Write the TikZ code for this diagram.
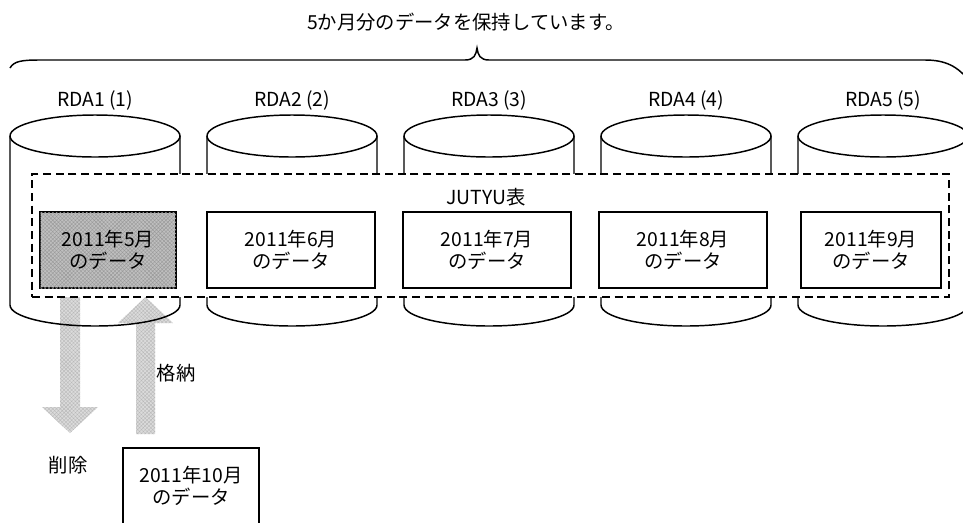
\documentclass[tikz,border=0pt]{standalone}
\usepackage{fontspec}
\setmainfont{Noto Sans CJK JP}
\usetikzlibrary{positioning, patterns.meta}

\begin{document}
\begin{tikzpicture}[
        x=0.75pt, y=-0.75pt,
        font=\fontsize{14.5}{16.5}\selectfont,
        line width=1.1pt,
        rdabox/.style={draw, fill=white, minimum height=57pt, align=center, inner sep=0pt},
        olddata/.style={rdabox, fill=gray!50, postaction={pattern={Hatch[angle=45, distance=2pt, line width=0.3pt]}, pattern color=gray!80}},
        bigarrow/.style={fill=gray!28, postaction={pattern={Hatch[angle=45, distance=2pt, line width=0.3pt]}, pattern color=gray!55}},
        tablebox/.style={draw, dash pattern=on 6pt off 3.5pt, fill=white, minimum width=687.75pt, minimum height=92.25pt, inner sep=0pt},
    ]
    \useasboundingbox (0,0) rectangle (963,522);
    \clip (0,0) rectangle (963,522);

    % Title and brace
    \node (title) at (466,22) {5か月分のデータを保持しています。};
    \draw (10,68) .. controls (14,61) and (22,60) .. (40,60) -- (465,60)
        .. controls (474,60) and (476,55) .. (477,48)
        .. controls (478,55) and (480,60) .. (489,60) -- (925,60)
        .. controls (945,60) and (958,66) .. (970,82);

    % Delete / store arrows
    \path[bigarrow] (60,297) -- (80,297) -- (80,407) -- (98,407) -- (70,433) -- (42,407) -- (60,407) -- cycle;
    \path[bigarrow] (136,434) -- (155,434) -- (155,323) -- (173,323) -- (145.5,297) -- (118,323) -- (136,323) -- cycle;
    \node (del) at (68,465) {削除};
    \node (store) at (176,373) {格納};

    % RDA areas
    \foreach \i/\cx in {1/95, 2/292, 3/489, 4/686, 5/883} {
        \draw (\cx,136) ellipse [x radius=63.75pt, y radius=15.75pt];
        \draw (\cx-85,136) -- (\cx-85,305) arc[start angle=180, end angle=360, x radius=63.75pt, y radius=15.75pt] -- (\cx+85,136);
        \node (rda\i) at (\cx,100) {RDA\i\ (\i)};
    }

    % JUTYU table
    \node[tablebox] (jutyu) at (490.5,235.5) {};
    \node (jutyulabel) at (486,197) {JUTYU表};

    % Monthly data
    \node[olddata, minimum width=102pt] (may) at (108,250) {2011年5月\\のデータ};
    \node[rdabox, minimum width=126pt] (jun) at (291,250) {2011年6月\\のデータ};
    \node[rdabox, minimum width=126pt] (jul) at (487,250) {2011年7月\\のデータ};
    \node[rdabox, minimum width=126pt] (aug) at (683,250) {2011年8月\\のデータ};
    \node[rdabox, minimum width=105pt] (sep) at (871,250) {2011年9月\\のデータ};

    % New data
    \node[rdabox, minimum width=102pt] (oct) at (191,486) {2011年10月\\のデータ};

\end{tikzpicture}
\end{document}
